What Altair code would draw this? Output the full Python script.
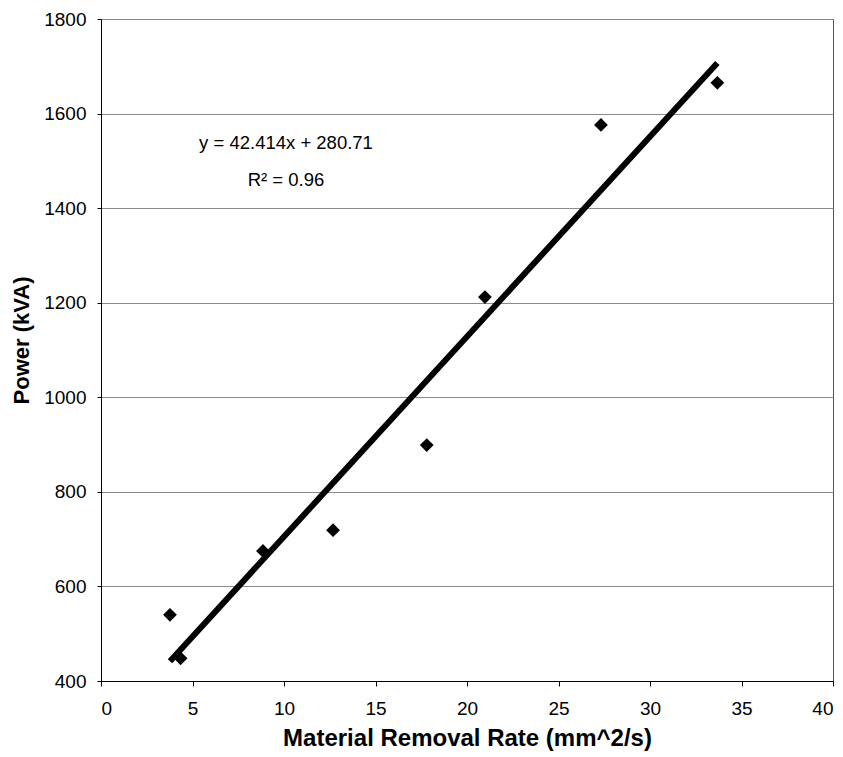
import altair as alt
import pandas as pd

rate = [3.77, 4.35, 8.85, 12.68, 17.80, 20.98, 27.32, 33.68]
power = [540, 448, 675, 719, 899, 1212, 1576, 1665]
eq_lines = ["y = 42.414x + 280.71", "R² = 0.96"]
eq_y = [1537, 1459]

df = pd.DataFrame({"rate": rate, "power": power})
ann = pd.DataFrame({"t": eq_lines, "y": eq_y})

FONT = "Liberation Sans"
xs = alt.Scale(domain=[0, 40], nice=False, zero=False)
ys = alt.Scale(domain=[400, 1800], nice=False, zero=False)

x_axis = alt.Axis(values=list(range(0, 41, 5)), grid=False, labelFontSize=19, titleFontSize=24,
                  titleFontWeight="bold", labelFont=FONT, titleFont=FONT, labelColor="black",
                  titleColor="black", domainColor="black", tickColor="black", tickSize=5,
                  labelPadding=13, titlePadding=8, format="d")
y_axis = alt.Axis(values=list(range(400, 1801, 200)), grid=True, gridColor="#8a8a8a", gridWidth=1,
                  labelFontSize=19, titleFontSize=22, titleFontWeight="bold", labelFont=FONT,
                  titleFont=FONT, labelColor="black", titleColor="black", domainColor="black",
                  tickColor="black", tickSize=4, labelPadding=11, titlePadding=10, titleY=321,
                  format="d")

X = alt.X("rate:Q", scale=xs, axis=x_axis, title="Material Removal Rate (mm^2/s)")
Y = alt.Y("power:Q", scale=ys, axis=y_axis, title="Power (kVA)")

pts = alt.Chart(df).mark_point(shape="diamond", filled=True, color="black", size=190, opacity=1).encode(
    x=X, y=Y,
)

fit = alt.Chart(df).transform_regression("rate", "power", method="linear", extent=[min(rate), max(rate)]).mark_line(
    color="black", strokeWidth=6, strokeCap="butt").encode(x=X, y=Y)

txt = alt.Chart(ann).mark_text(font=FONT, fontSize=18.5, color="black", align="center", baseline="middle", dx=185).encode(
    text="t:N", y=alt.Y("y:Q", scale=ys, axis=y_axis, title="Power (kVA)"), x=alt.value(0)
)

chart = alt.layer(pts, fit, txt).properties(
    width=732, height=662,
    autosize=alt.AutoSizeParams(type="none"),
    padding={"left": 101, "top": 19, "right": 10, "bottom": 76},
    background="white",
).configure_view(stroke="#555555", strokeWidth=1)

chart.save("out.html", embed_options={"renderer": "svg", "actions": False})
